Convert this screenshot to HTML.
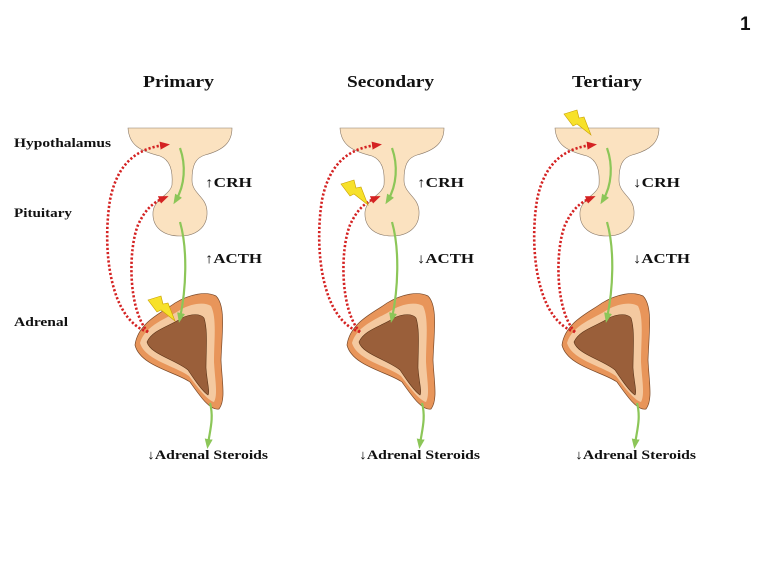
<!DOCTYPE html>
<html><head><style>
html,body{margin:0;padding:0;background:#fff;width:768px;height:576px;overflow:hidden}
svg{display:block}
text{font-family:"Liberation Serif",serif;font-weight:bold;fill:#111}
</style></head><body>
<svg width="768" height="576" viewBox="0 0 768 576" xmlns="http://www.w3.org/2000/svg">
<defs>
<marker id="ag" markerUnits="userSpaceOnUse" markerWidth="10" markerHeight="10" refX="5" refY="5" orient="auto"><path d="M0,1 L10,5 L0,9 Z" fill="#8cc658"/></marker>
<marker id="ar" markerUnits="userSpaceOnUse" markerWidth="10" markerHeight="10" refX="5" refY="5" orient="auto"><path d="M0,1 L10,5 L0,9 Z" fill="#d42222"/></marker>
<g id="unit">
<path d="M128,128 H232 C232,142 224,150 205,155 C195,158 192,166 192,180 C192,194 206,196 207,211 C208,228 195,236 180,236 C164,236 152,228 153,212 C154,199 170,195 172,185 C173,170 170,160 160,156 C140,151 129,145 128,128 Z" fill="#fbe2c0" stroke="#8a7a6a" stroke-width="0.6"/>
<path d="M135,345 C138,322 163,312 175,303 C190,294 206,291 216,296 C226,306 222,332 221,360 C222,382 226,400 219,409 C210,411 200,396 190,382 C176,372 140,366 135,345 Z" fill="#e8955a" stroke="#7a4a2a" stroke-width="0.7"/>
<path d="M140,343 C145,325 168,318 180,310 C192,303 205,302 211,306 C217,318 214,340 214,362 C215,380 218,395 214,402 C207,400 198,388 189,376 C175,366 145,360 140,343 Z" fill="#f4c9a0"/>
<path d="M147,342 C152,330 170,326 182,318 C192,313 201,314 204,318 C208,330 206,350 206,368 C207,382 210,392 208,395 C203,392 196,382 188,370 C176,360 150,354 147,342 Z" fill="#9a5f3a" stroke="#5a3418" stroke-width="0.6"/>
<path d="M180,148 C186,165 185,185 176,200" fill="none" stroke="#8cc658" stroke-width="2.2" marker-end="url(#ag)"/>
<path d="M180,222 C188,250 186,290 180,318" fill="none" stroke="#8cc658" stroke-width="2.2" marker-end="url(#ag)"/>
<path d="M210,403 C214,418 210,430 208,444" fill="none" stroke="#8cc658" stroke-width="2.2" marker-end="url(#ag)"/>
<path d="M148,332 C110,320 102,250 110,200 C118,160 140,148 165,145" fill="none" stroke="#d42222" stroke-width="2.6" stroke-dasharray="2.2,2" marker-end="url(#ar)"/>
<path d="M148,332 C128,310 128,250 138,225 C145,210 152,203 164,198" fill="none" stroke="#d42222" stroke-width="2.6" stroke-dasharray="2.2,2" marker-end="url(#ar)"/>
</g>
<path id="bolt" d="M0,4 L13,0 L15,8 L20,7 L27,25 L13,14 L9,16 Z" fill="#f7e12a" stroke="#c9a000" stroke-width="0.6"/>
</defs>
<text x="740" y="30" style="font-family:'Liberation Sans',sans-serif;font-size:19px">1</text>
<g font-size="17" lengthAdjust="spacingAndGlyphs">
<text x="143" y="87" textLength="71" lengthAdjust="spacingAndGlyphs">Primary</text>
<text x="347" y="87" textLength="87" lengthAdjust="spacingAndGlyphs">Secondary</text>
<text x="572" y="87" textLength="70" lengthAdjust="spacingAndGlyphs">Tertiary</text>
</g>
<g font-size="13">
<text x="14" y="147" textLength="97" lengthAdjust="spacingAndGlyphs">Hypothalamus</text>
<text x="14" y="217" textLength="58" lengthAdjust="spacingAndGlyphs">Pituitary</text>
<text x="14" y="326" textLength="54" lengthAdjust="spacingAndGlyphs">Adrenal</text>
</g>
<use href="#unit"/>
<use href="#unit" transform="translate(212,0)"/>
<use href="#unit" transform="translate(427,0)"/>
<use href="#bolt" transform="translate(148,296)"/>
<use href="#bolt" transform="translate(341,180)"/>
<use href="#bolt" transform="translate(564,110)"/>
<g font-size="14">
<text x="205" y="187" textLength="47" lengthAdjust="spacingAndGlyphs">↑CRH</text>
<text x="205" y="263" textLength="57" lengthAdjust="spacingAndGlyphs">↑ACTH</text>
<text x="417" y="187" textLength="47" lengthAdjust="spacingAndGlyphs">↑CRH</text>
<text x="417" y="263" textLength="57" lengthAdjust="spacingAndGlyphs">↓ACTH</text>
<text x="633" y="187" textLength="47" lengthAdjust="spacingAndGlyphs">↓CRH</text>
<text x="633" y="263" textLength="57" lengthAdjust="spacingAndGlyphs">↓ACTH</text>
</g>
<g font-size="13">
<text x="147" y="459" textLength="121" lengthAdjust="spacingAndGlyphs">↓Adrenal Steroids</text>
<text x="359" y="459" textLength="121" lengthAdjust="spacingAndGlyphs">↓Adrenal Steroids</text>
<text x="575" y="459" textLength="121" lengthAdjust="spacingAndGlyphs">↓Adrenal Steroids</text>
</g>
</svg>
</body></html>
